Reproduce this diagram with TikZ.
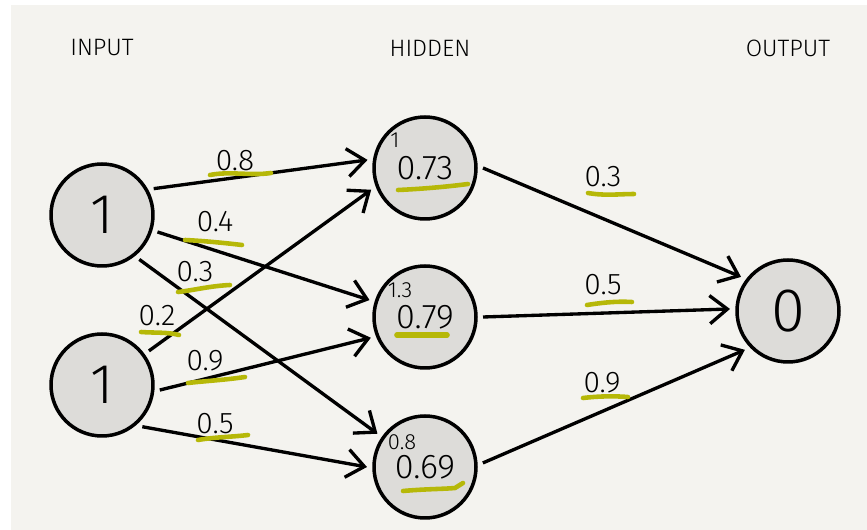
\documentclass[tikz,border=0pt]{standalone}
\usepackage{fontspec}
\setmainfont{Fira Sans}[UprightFont=* Light]
\usepackage{xcolor}
\usetikzlibrary{arrows.meta}
\definecolor{paper}{HTML}{F4F3EF}
\definecolor{cellgray}{HTML}{DDDCD9}
\definecolor{marker}{HTML}{B6B808}

\begin{document}
\begin{tikzpicture}[x=0.02cm,y=-0.02cm,
		neuron/.style={circle,draw=black,line width=2pt,fill=cellgray,minimum size=2.04cm,inner sep=0pt,outer sep=4pt},
		link/.style={line width=1.9pt,-{Straight Barb[length=10pt,width=16pt]}},
		weight/.style={font=\fontsize{17}{17}\selectfont,inner sep=0pt},
		bias/.style={font=\fontsize{12.5}{12.5}\selectfont,inner sep=0pt},
		head/.style={font=\fontsize{13.5}{13.5}\selectfont,inner sep=0pt},
		hl/.style={draw=marker,line width=2.6pt,line cap=round}]
	\useasboundingbox (0,0) rectangle (867,530);
	\fill[paper] (11,5) rectangle (867,530);
		\node[head] (thin) at (102,48) {INPUT};
		\node[head] (thid) at (430,48) {HIDDEN};
		\node[head] (tout) at (788,48) {OUTPUT};
	\node[neuron,font=\fontsize{32}{32}\selectfont] (i1) at (102,215) {1};
	\node[neuron,font=\fontsize{32}{32}\selectfont] (i2) at (102,385) {1};
	\node[neuron,font=\fontsize{19.5}{19.5}\selectfont] (h1) at (425,168) {\raisebox{-2pt}{0.73}};
	\node[neuron,font=\fontsize{19.5}{19.5}\selectfont] (h2) at (425,317) {\raisebox{-2pt}{0.79}};
	\node[neuron,font=\fontsize{19.5}{19.5}\selectfont] (h3) at (425,467) {\raisebox{-2pt}{0.69}};
	\node[neuron,font=\fontsize{35}{35}\selectfont] (o1) at (788,311) {0};
		\node[bias] (b1) at ([shift={(-30,-28)}]h1) {1};
		\node[bias] (b2) at ([shift={(-25,-27)}]h2) {1.3};
		\node[bias] (b3) at ([shift={(-23,-25)}]h3) {0.8};
	\draw[link] (i1.27) -- (h1.172);
	\draw[link] (i1.343) -- (h2.163);
	\draw[link] (i1.310) -- (h3.145);
	\draw[link] (i2.36) -- (h1.202);
	\draw[link] (i2.355) -- (h2.201);
	\draw[link] (i2.314) -- (h3.180);
	\draw[link] (h1.0) -- (o1.144);
	\draw[link] (h2.0) -- (o1.178);
	\draw[link] (h3.4) -- (o1.222);
		\node[weight] (w11) at (235,161) {0.8};
		\node[weight] (w12) at (215,222) {0.4};
		\node[weight] (w13) at (195,272) {0.3};
		\node[weight] (w21) at (157,316) {0.2};
		\node[weight] (w22) at (205,361) {0.9};
		\node[weight] (w23) at (215,424) {0.5};
		\node[weight] (v1) at (603,177) {0.3};
		\node[weight] (v2) at (603,285) {0.5};
		\node[weight] (v3) at (602,383) {0.9};
	\draw[hl] (210,175) .. controls (230,171) and (250,176) .. (271,173);
	\draw[hl] (185,240) .. controls (205,241) and (225,243) .. (242,245);
	\draw[hl] (178,292) .. controls (195,290) and (210,286) .. (230,285);
	\draw[hl] (141,332) .. controls (155,333) and (168,332) .. (179,335);
	\draw[hl] (188,383) .. controls (205,381) and (225,380) .. (245,377);
	\draw[hl] (198,440) .. controls (215,437) and (232,437) .. (248,435);
	\draw[hl] (398,190) .. controls (420,189) and (445,187) .. (468,184);
	\draw[hl,line width=3.2pt] (397,335) -- (447,335);
	\draw[hl] (403,491) .. controls (425,489) and (445,489) .. (455,488) -- (463,483);
	\draw[hl] (588,193) .. controls (605,196) and (620,194) .. (634,194);
	\draw[hl] (587,305) .. controls (600,303) and (615,301) .. (632,302);
	\draw[hl] (583,398) .. controls (600,396) and (615,396) .. (628,397);
\end{tikzpicture}
\end{document}
